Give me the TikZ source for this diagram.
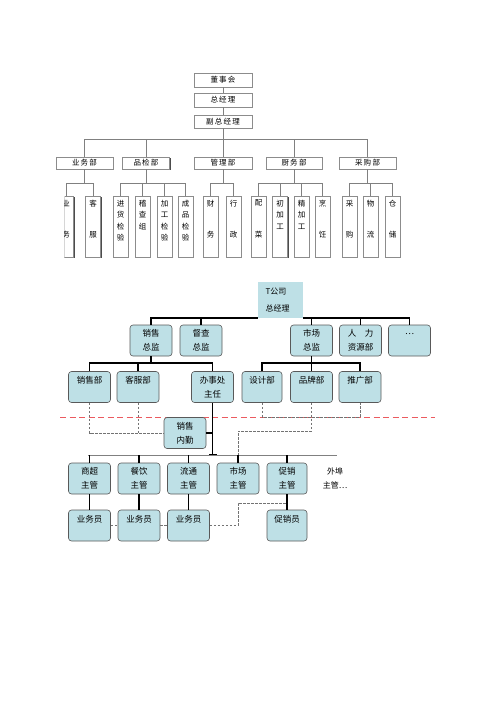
\documentclass[tikz,border=0pt]{standalone}
\usepackage{fontspec}
\setmainfont{Noto Sans CJK SC}
\usetikzlibrary{arrows.meta,shadows}
\definecolor{boxblue}{RGB}{190,224,230}
\definecolor{dashred}{RGB}{235,90,95}
\tikzset{
  greybox/.style={draw=black!45, line width=0.6pt, fill=white, inner sep=0pt,
    drop shadow={shadow xshift=1.3pt, shadow yshift=-1.3pt, fill=black!70, opacity=1},
    font=\fontsize{7.5}{9}\selectfont},
  headbox/.style={greybox, minimum width=58pt, minimum height=13pt},
  deptbox/.style={greybox, minimum height=12pt},
  leafbox/.style={greybox, minimum width=15pt, minimum height=61pt},
  leaftext/.style={anchor=north, align=center, inner sep=0pt, yshift=-4pt,
    font=\fontsize{7.5}{11.5}\selectfont},
  greyline/.style={draw=black!50, line width=0.6pt},
  bluebox/.style={draw=black!65, line width=0.6pt, fill=boxblue, rounded corners=3pt,
    minimum width=42pt, minimum height=31pt, align=center, inner sep=0pt,
    font=\fontsize{8.5}{14}\selectfont},
  heavy/.style={draw=black, line width=1.9pt},
  barline/.style={draw=black!50, line width=1pt},
  dashline/.style={draw=black!55, line width=0.6pt, dash pattern=on 2.5pt off 1.5pt},
  reddash/.style={color=dashred, line width=0.9pt, dash pattern=on 6pt off 3.5pt}
}

\begin{document}
\begin{tikzpicture}[x=1pt, y=-1pt]
\useasboundingbox (0,0) rectangle (500,707);

\node[headbox, minimum height=14pt] (dsh) at (223,80) {董\,事\,会};
\node[headbox, minimum height=14pt] (zjl) at (223,100) {总\,经\,理};
\node[headbox] (fzjl) at (223,121.5) {副\,总\,经\,理};
\draw[greyline] (dsh) to (zjl);
\draw[greyline] (zjl) to (fzjl);

\node[deptbox, minimum width=57pt] (ywb) at (84.5,163) {业\,务\,部};
\node[deptbox, minimum width=47pt] (pjb) at (146,163) {品\,检\,部};
\node[deptbox, minimum width=58pt] (glb) at (223,163) {管\,理\,部};
\node[deptbox, minimum width=56pt] (cwb) at (294,163) {厨\,务\,部};
\node[deptbox, minimum width=57pt] (cgb) at (367.5,163) {采\,购\,部};

\draw[greyline] (fzjl.south) -- ++(0,11) -| (ywb.north);
\draw[greyline] (fzjl.south) -- ++(0,11) -| (pjb.north);
\draw[greyline] (fzjl.south) -- (glb.north);
\draw[greyline] (fzjl.south) -- ++(0,11) -| (cwb.north);
\draw[greyline] (fzjl.south) -- ++(0,11) -| (cgb.north);

\begin{scope}
\clip (64.5,188) rectangle (80,262);
\node[leafbox, label={[leaftext]north:{业\\[20pt]务}}] (yw) at (66,226.5) {};
\end{scope}
\node[leafbox, label={[leaftext]north:{客\\[20pt]服}}] (kf) at (93,226.5) {};
\node[leafbox, label={[leaftext]north:{进\\货\\检\\验}}] (jhjy) at (120.5,226.5) {};
\node[leafbox, label={[leaftext]north:{稽\\查\\组}}] (jcz) at (142.5,226.5) {};
\node[leafbox, label={[leaftext]north:{加\\工\\检\\验}}] (jgjy) at (164.5,226.5) {};
\node[leafbox, label={[leaftext]north:{成\\品\\检\\验}}] (cpjy) at (185.5,226.5) {};
\node[leafbox, label={[leaftext]north:{财\\[20pt]务}}] (cw) at (210.5,226.5) {};
\node[leafbox, label={[leaftext]north:{行\\[20pt]政}}] (xz) at (233.5,226.5) {};
\node[leafbox, label={[leaftext]north:{配\\[20pt]菜}}] (pc) at (258.5,226.5) {};
\node[leafbox, label={[leaftext]north:{初\\加\\工}}] (cjg) at (280,226.5) {};
\node[leafbox, label={[leaftext]north:{精\\加\\工}}] (jjg) at (301.5,226.5) {};
\node[leafbox, label={[leaftext]north:{烹\\[20pt]饪}}] (pr) at (322.5,226.5) {};
\node[leafbox, label={[leaftext]north:{采\\[20pt]购}}] (cg) at (349.5,226.5) {};
\node[leafbox, label={[leaftext]north:{物\\[20pt]流}}] (wl) at (370.5,226.5) {};
\node[leafbox, label={[leaftext]north:{仓\\[20pt]储}}] (cc) at (392.5,226.5) {};

\draw[greyline] (ywb.south) -- ++(0,14) -| (yw.north);
\draw[greyline] (ywb.south) -- ++(0,14) -| (kf.north);
\draw[greyline] (pjb.south) -- ++(0,14) -| (jhjy.north);
\draw[greyline] (pjb.south) -- ++(0,14) -| (jcz.north);
\draw[greyline] (pjb.south) -- ++(0,14) -| (jgjy.north);
\draw[greyline] (pjb.south) -- ++(0,14) -| (cpjy.north);
\draw[greyline] (glb.south) -- ++(0,14) -| (cw.north);
\draw[greyline] (glb.south) -- ++(0,14) -| (xz.north);
\draw[greyline] (cwb.south) -- ++(0,14) -| (pc.north);
\draw[greyline] (cwb.south) -- ++(0,14) -| (cjg.north);
\draw[greyline] (cwb.south) -- ++(0,14) -| (jjg.north);
\draw[greyline] (cwb.south) -- ++(0,14) -| (pr.north);
\draw[greyline] (cgb.south) -- ++(0,14) -| (cg.north);
\draw[greyline] (cgb.south) -- ++(0,14) -| (wl.north);
\draw[greyline] (cgb.south) -- ++(0,14) -| (cc.north);

\coordinate (redL) at (60,417);
\coordinate (redR) at (435,417);
\draw[reddash] (redL) -- (redR);

\node[fill=boxblue, minimum width=45pt, minimum height=36pt, inner sep=0pt,
  align=left, text width=30pt, font=\fontsize{8}{17}\selectfont] (tgs) at (280.5,300) {T公司\\总经理};

\node[bluebox] (xszj) at (151,340.5) {销售\\总监};
\node[bluebox] (dczj) at (201,340.5) {督查\\总监};
\node[bluebox] (sczj) at (311.5,340.5) {市场\\总监};
\node[bluebox] (rlzy) at (360.5,340.5) {人\quad 力\\资源部};
\node[bluebox] (more) at (409.5,340.5) {…\\~};

\draw[heavy] (xszj.north) |- (tgs.south west);
\draw[heavy] (dczj.north) -- (dczj.north |- tgs.south);
\draw[heavy] (sczj.north) -- (sczj.north |- tgs.south);
\draw[heavy] (rlzy.north) -- (rlzy.north |- tgs.south);
\draw[heavy] (more.north) |- (tgs.south east);

\node[bluebox] (xsb) at (89.5,387) {销售部\\~};
\node[bluebox] (kfb) at (138,387) {客服部\\~};
\node[bluebox] (bsc) at (212.5,387) {办事处\\主任};
\node[bluebox, minimum width=40pt] (sjb) at (262,387) {设计部\\~};
\node[bluebox] (ppb) at (311.5,387) {品牌部\\~};
\node[bluebox] (tgb) at (360,387) {推广部\\~};

\draw[heavy] (xszj.south) -- ++(0,7) -| (xsb.north);
\draw[heavy] (xszj.south) -- ++(0,7) -| (kfb.north);
\draw[heavy] (xszj.south) -- ++(0,7) -| (bsc.north);
\draw[heavy] (sczj.south) -- ++(0,7) -| (sjb.north);
\draw[heavy] (sczj) to (ppb);
\draw[heavy] (sczj.south) -- ++(0,7) -| (tgb.north);

\node[bluebox] (xsnq) at (185,433) {销售\\内勤};
\coordinate (bscend) at (212.5,456);
\draw[heavy, -{Bar[width=8pt]}] (bsc.south) -- (bscend);
\draw[heavy] (xsnq.east) -- (xsnq.east -| bsc.south);

\draw[dashline] (xsb.south) |- (xsnq.west);
\draw[dashline] (kfb.south) -- (kfb.south |- xsnq.west);
\draw[dashline] (sjb.south) -- ++(0,14) -| (tgb.south);

\coordinate (barL) at (88,455);
\coordinate (barR) at (337,455);
\draw[barline] (barL) -- (barR);

\node[bluebox] (scz) at (89.5,478.5) {商超\\主管};
\node[bluebox] (cyz) at (139,478.5) {餐饮\\主管};
\node[bluebox] (ltz) at (188.5,478.5) {流通\\主管};
\node[bluebox] (scgz) at (238,478.5) {市场\\主管};
\node[bluebox, minimum width=40pt] (cxz) at (287,478.5) {促销\\主管};
\node[align=center, inner sep=0pt, font=\fontsize{8}{14}\selectfont] (wbzg) at (335,478) {外埠\\主管…};

\draw[dashline] (ppb.south) -- ++(0,28) -| (scgz.north);

\draw[heavy] (scz.north) -- (scz.north |- barL);
\draw[heavy] (cyz.north) -- (cyz.north |- barL);
\draw[heavy] (ltz.north) -- (ltz.north |- barL);
\draw[heavy] (scgz.north) -- (scgz.north |- barL);
\draw[heavy] (cxz.north) -- (cxz.north |- barL);

\node[bluebox] (ywy1) at (89.5,525.5) {业务员\\~};
\node[bluebox] (ywy2) at (139,525.5) {业务员\\~};
\node[bluebox] (ywy3) at (188.5,525.5) {业务员\\~};
\node[bluebox, minimum width=40pt] (cxy) at (287,525.5) {促销员\\~};

\draw[heavy] (scz) to (ywy1);
\draw[heavy] (cyz) to (ywy2);
\draw[heavy] (ltz) to (ywy3);
\draw[heavy] (cxz) to (cxy);

\coordinate (cxmid) at (287,503);
\draw[dashline] (ywy1.east) -- (ywy2.west);
\draw[dashline] (ywy2.east) -- (ywy3.west);
\draw[dashline] (ywy3.east) -- ++(28,0) |- (cxmid);
\end{tikzpicture}
\end{document}
